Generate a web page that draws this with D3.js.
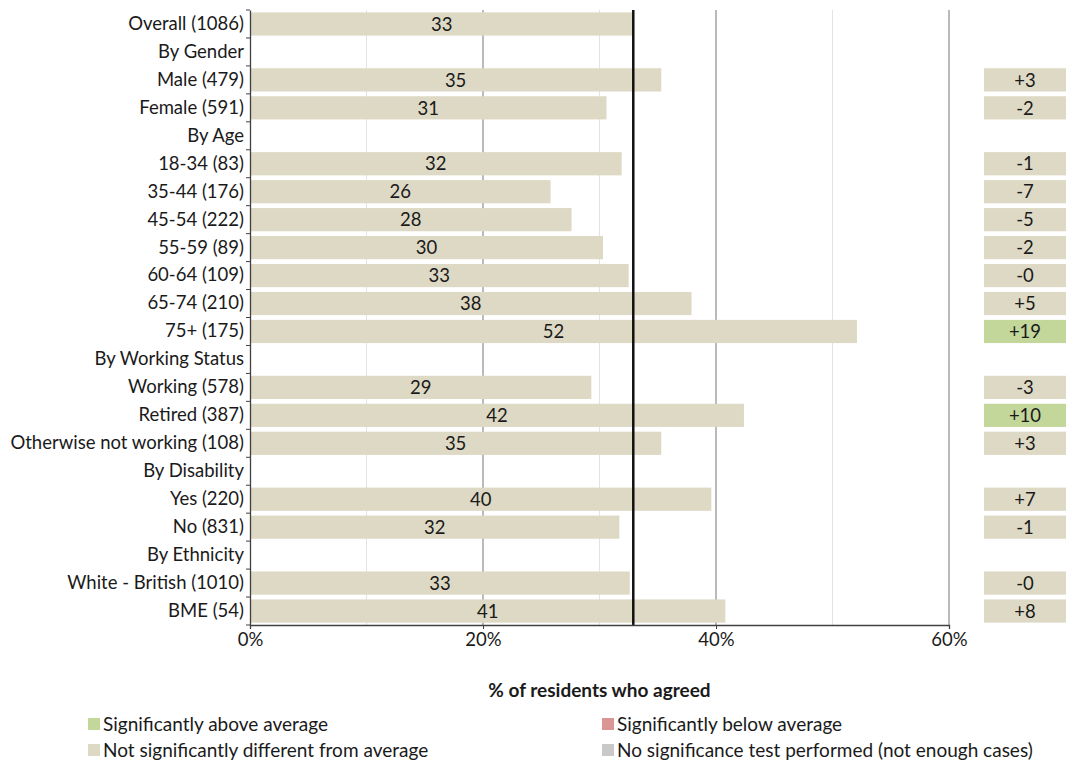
<!DOCTYPE html>
<html>
<head>
<meta charset="utf-8">
<script src="https://cdn.jsdelivr.net/npm/d3@7"></script>
<style>
  html, body { margin: 0; padding: 0; background: #fff; }
  svg text { font-family: Lato, "Open Sans", sans-serif; fill: #1a1a1a; }
</style>
</head>
<body>
<svg id="chart" width="1070" height="765"></svg>
<script>
// Row labels (section headers have no value)
const categories = [
  "Overall (1086)", "By Gender", "Male (479)", "Female (591)", "By Age",
  "18-34 (83)", "35-44 (176)", "45-54 (222)", "55-59 (89)", "60-64 (109)",
  "65-74 (210)", "75+ (175)", "By Working Status", "Working (578)", "Retired (387)",
  "Otherwise not working (108)", "By Disability", "Yes (220)", "No (831)",
  "By Ethnicity", "White - British (1010)", "BME (54)"
];
// % of residents who agreed
const values = [
  32.9, null, 35.3, 30.6, null,
  31.9, 25.8, 27.6, 30.3, 32.5,
  37.9, 52.1, null, 29.3, 42.4,
  35.3, null, 39.6, 31.7,
  null, 32.6, 40.8
];
// Difference from the overall figure, and significance status
const diffs = [
  null, null, "+3", "-2", null,
  "-1", "-7", "-5", "-2", "-0",
  "+5", "+19", null, "-3", "+10",
  "+3", null, "+7", "-1",
  null, "-0", "+8"
];
const significance = [
  null, null, "same", "same", null,
  "same", "same", "same", "same", "same",
  "same", "above", null, "same", "above",
  "same", null, "same", "same",
  null, "same", "same"
];
const averageValue = values[0];
const xTicks = [0, 20, 40, 60];
const minorGrid = [10, 30, 50];
const majorGrid = [20, 40, 60];
const axisTitle = "% of residents who agreed";
const legendKeys = ["above", "below", "same", "none"];
const legendLabels = [
  "Significantly above average",
  "Significantly below average",
  "Not significantly different from average",
  "No significance test performed (not enough cases)"
];

const colour = d3.scaleOrdinal()
  .domain(["above", "below", "same", "none"])
  .range(["#c4d79b", "#da9694", "#ddd9c4", "#c9c9c9"]);

const svg = d3.select("#chart");
const plot = { left: 250, right: 949, top: 10, bottom: 625 };
const fontSize = 18.5;

const x = d3.scaleLinear().domain([0, 60]).range([plot.left, plot.right]);
const y = d3.scaleBand()
  .domain(d3.range(categories.length))
  .range([plot.top, plot.bottom])
  .paddingInner(0.17)
  .paddingOuter(0.085);
const band = d3.scaleBand()
  .domain(d3.range(categories.length))
  .range([plot.top, plot.bottom]);

// Gridlines
svg.append("g").selectAll("line").data(minorGrid).join("line")
  .attr("x1", d => x(d)).attr("x2", d => x(d))
  .attr("y1", plot.top).attr("y2", plot.bottom)
  .attr("stroke", "#e3e3e3").attr("stroke-width", 1);
svg.append("g").selectAll("line").data(majorGrid).join("line")
  .attr("x1", d => x(d)).attr("x2", d => x(d))
  .attr("y1", plot.top).attr("y2", plot.bottom)
  .attr("stroke", "#8c8c8c").attr("stroke-width", 1.2);

const rows = categories.map((c, i) => ({
  i, label: c, value: values[i], diff: diffs[i], sig: significance[i]
}));

// Bars
svg.append("g").selectAll("rect")
  .data(rows.filter(d => d.value != null))
  .join("rect")
  .attr("x", x(0))
  .attr("y", d => y(d.i))
  .attr("width", d => x(d.value) - x(0))
  .attr("height", y.bandwidth())
  .attr("fill", colour("same"));

// Bar value labels
svg.append("g").selectAll("text")
  .data(rows.filter(d => d.value != null))
  .join("text")
  .attr("x", d => (x(0) + x(d.value)) / 2)
  .attr("y", d => y(d.i) + y.bandwidth() / 2)
  .attr("dy", "0.36em")
  .attr("text-anchor", "middle")
  .attr("font-size", fontSize)
  .text(d => d3.format(".0f")(d.value));

// Overall average reference line
svg.append("line")
  .attr("x1", x(averageValue)).attr("x2", x(averageValue))
  .attr("y1", plot.top).attr("y2", plot.bottom)
  .attr("stroke", "#111").attr("stroke-width", 2.5);

// Y axis with labels and tick marks on category boundaries
const yAxis = svg.append("g")
  .attr("transform", `translate(${plot.left},0)`)
  .call(d3.axisLeft(band).tickSize(0).tickPadding(6).tickFormat(i => categories[i]));
yAxis.select(".domain").attr("stroke", "#404040").attr("stroke-width", 1.3);
yAxis.selectAll("text").attr("font-size", fontSize).attr("font-family", "Lato, sans-serif").attr("fill", "#1a1a1a");
svg.append("g").selectAll("line")
  .data(d3.range(categories.length + 1))
  .join("line")
  .attr("x1", plot.left - 4).attr("x2", plot.left)
  .attr("y1", i => plot.top + i * band.step())
  .attr("y2", i => plot.top + i * band.step())
  .attr("stroke", "#404040").attr("stroke-width", 1);

// X axis
const xAxis = svg.append("g")
  .attr("transform", `translate(0,${plot.bottom})`)
  .call(d3.axisBottom(x).tickValues(xTicks).tickSize(4).tickPadding(4).tickFormat(d => d + "%"));
xAxis.select(".domain").attr("stroke", "#404040").attr("stroke-width", 1.3);
xAxis.selectAll(".tick line").attr("stroke", "#404040");
xAxis.selectAll("text").attr("font-size", fontSize).attr("font-family", "Lato, sans-serif").attr("fill", "#1a1a1a");

// Difference-from-average boxes
const diffBox = { left: 984, right: 1066 };
const diffRows = rows.filter(d => d.diff != null);
svg.append("g").selectAll("rect").data(diffRows).join("rect")
  .attr("x", diffBox.left)
  .attr("y", d => y(d.i))
  .attr("width", diffBox.right - diffBox.left)
  .attr("height", y.bandwidth())
  .attr("fill", d => colour(d.sig));
svg.append("g").selectAll("text").data(diffRows).join("text")
  .attr("x", (diffBox.left + diffBox.right) / 2)
  .attr("y", d => y(d.i) + y.bandwidth() / 2)
  .attr("dy", "0.36em")
  .attr("text-anchor", "middle")
  .attr("font-size", fontSize)
  .text(d => d.diff);

// Axis title
svg.append("text")
  .attr("x", (plot.left + plot.right) / 2)
  .attr("y", 690)
  .attr("dy", "0.36em")
  .attr("text-anchor", "middle")
  .attr("font-size", 19)
  .attr("font-weight", "bold")
  .text(axisTitle);

// Legend
const legendPos = [
  { x: 88, y: 724 }, { x: 602, y: 724 },
  { x: 88, y: 750 }, { x: 602, y: 750 }
];
const legend = svg.append("g").selectAll("g")
  .data(legendKeys.map((k, i) => ({ key: k, label: legendLabels[i], pos: legendPos[i] })))
  .join("g")
  .attr("transform", d => `translate(${d.pos.x},${d.pos.y})`);
legend.append("rect")
  .attr("x", 0).attr("y", -6).attr("width", 12).attr("height", 12)
  .attr("fill", d => colour(d.key));
legend.append("text")
  .attr("x", 15).attr("y", 0).attr("dy", "0.36em")
  .attr("font-size", 19)
  .text(d => d.label);
</script>
</body>
</html>
